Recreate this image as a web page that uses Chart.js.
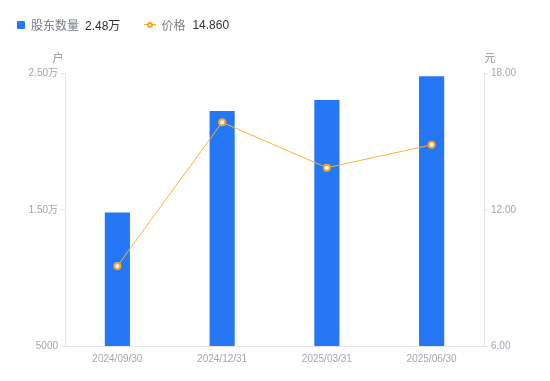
<!DOCTYPE html>
<html><head><meta charset="utf-8">
<script src="https://cdn.jsdelivr.net/npm/chart.js@4/dist/chart.umd.min.js"></script>
<style>
html,body{margin:0;padding:0;background:#fff;}
#wrap{position:relative;width:550px;height:381px;}
#legend{position:absolute;left:17px;top:16px;font-family:"Liberation Sans","Noto Sans CJK SC",sans-serif;font-size:12px;color:#7a7e8c;display:flex;align-items:center;white-space:nowrap;}
#legend .sq{display:inline-block;width:8px;height:8px;background:#2577f5;border-radius:1px;margin-right:6px;}
#legend .val{color:#333;margin-left:6px;}
#legend .ln{display:inline-block;position:relative;width:12px;height:8px;margin-right:5px;}
#legend .ln:before{content:"";position:absolute;left:0;right:0;top:3.5px;height:1px;background:#f5a623;}
#legend .ln:after{content:"";position:absolute;left:3px;top:1px;width:2px;height:2px;border:2px solid #f5a623;border-radius:50%;background:#fff;}
canvas{position:absolute;left:0;top:0;}
</style>
</head><body>
<div id="wrap">
<canvas id="c" width="550" height="381"></canvas>
<div id="legend"><span class="sq"></span><span>股东数量</span><span class="val">2.48万</span><span style="width:24px;display:inline-block"></span><span class="ln"></span><span>价格</span><span class="val" style="margin-left:7px">14.860</span></div>
</div>
<script>
const categories = ['2024/09/30','2024/12/31','2025/03/31','2025/06/30'];
const holders = [14800, 22250, 23050, 24800];
const prices = [9.52, 15.85, 13.85, 14.86];
const leftTicks = [5000, 15000, 25000];
const leftTickLabels = ['5000', '1.50万', '2.50万'];
const rightTicks = [6, 12, 18];
const rightTickLabels = ['6.00', '12.00', '18.00'];
const leftUnit = '户';
const rightUnit = '元';

const tickFont = {family: '"Liberation Sans","Noto Sans CJK SC",sans-serif', size: 10};
const tickColor = '#a3a6b4';
const axisColor = '#e3e4e8';

const unitPlugin = {
  id: 'units',
  afterDraw(chart) {
    const ctx = chart.ctx;
    const yl = chart.scales.yL, yr = chart.scales.yR;
    ctx.save();
    ctx.font = '11px "Noto Sans CJK SC",sans-serif';
    ctx.fillStyle = '#8a8e9c';
    ctx.textBaseline = 'middle';
    ctx.textAlign = 'center';
    ctx.fillText(leftUnit, yl.right - 7, yl.top - 16);
    ctx.fillText(rightUnit, yr.left + 6, yr.top - 16);
    ctx.restore();
  }
};

new Chart(document.getElementById('c'), {
  data: {
    labels: categories,
    datasets: [
      {type: 'line', label: '价格', data: prices, yAxisID: 'yR', borderColor: '#f7b23b', borderWidth: 1,
       pointRadius: 3, pointBorderWidth: 2, pointBackgroundColor: '#fff', pointBorderColor: '#f5a623', tension: 0, order: 0},
      {type: 'bar', label: '股东数量', data: holders, yAxisID: 'yL', backgroundColor: '#2577f5', barPercentage: 0.24, categoryPercentage: 1, order: 1}
    ]
  },
  options: {
    responsive: false, animation: false,
    layout: {padding: {top: 73.5, left: 0, right: 0, bottom: 0}},
    plugins: {legend: {display: false}, tooltip: {enabled: false}},
    scales: {
      x: {
        grid: {display: false, drawTicks: false},
        border: {color: axisColor},
        ticks: {font: tickFont, color: tickColor, padding: 7, maxRotation: 0},
        afterFit(s) { s.height = 35; }
      },
      yL: {
        position: 'left', min: 5000, max: 25000,
        grid: {display: true, drawOnChartArea: false, tickLength: 4, color: axisColor},
        border: {color: axisColor},
        afterBuildTicks(s) { s.ticks = leftTicks.map(v => ({value: v})); },
        ticks: {font: tickFont, color: tickColor, padding: 3, callback: (v) => leftTickLabels[leftTicks.indexOf(v)]},
        afterFit(s) { s.width = 65; }
      },
      yR: {
        position: 'right', min: 6, max: 18,
        grid: {display: true, drawOnChartArea: false, tickLength: 4, color: axisColor},
        border: {color: axisColor},
        afterBuildTicks(s) { s.ticks = rightTicks.map(v => ({value: v})); },
        ticks: {font: tickFont, color: tickColor, padding: 3, callback: (v) => rightTickLabels[rightTicks.indexOf(v)]},
        afterFit(s) { s.width = 66; }
      }
    }
  },
  plugins: [unitPlugin]
});
</script>
</body></html>
